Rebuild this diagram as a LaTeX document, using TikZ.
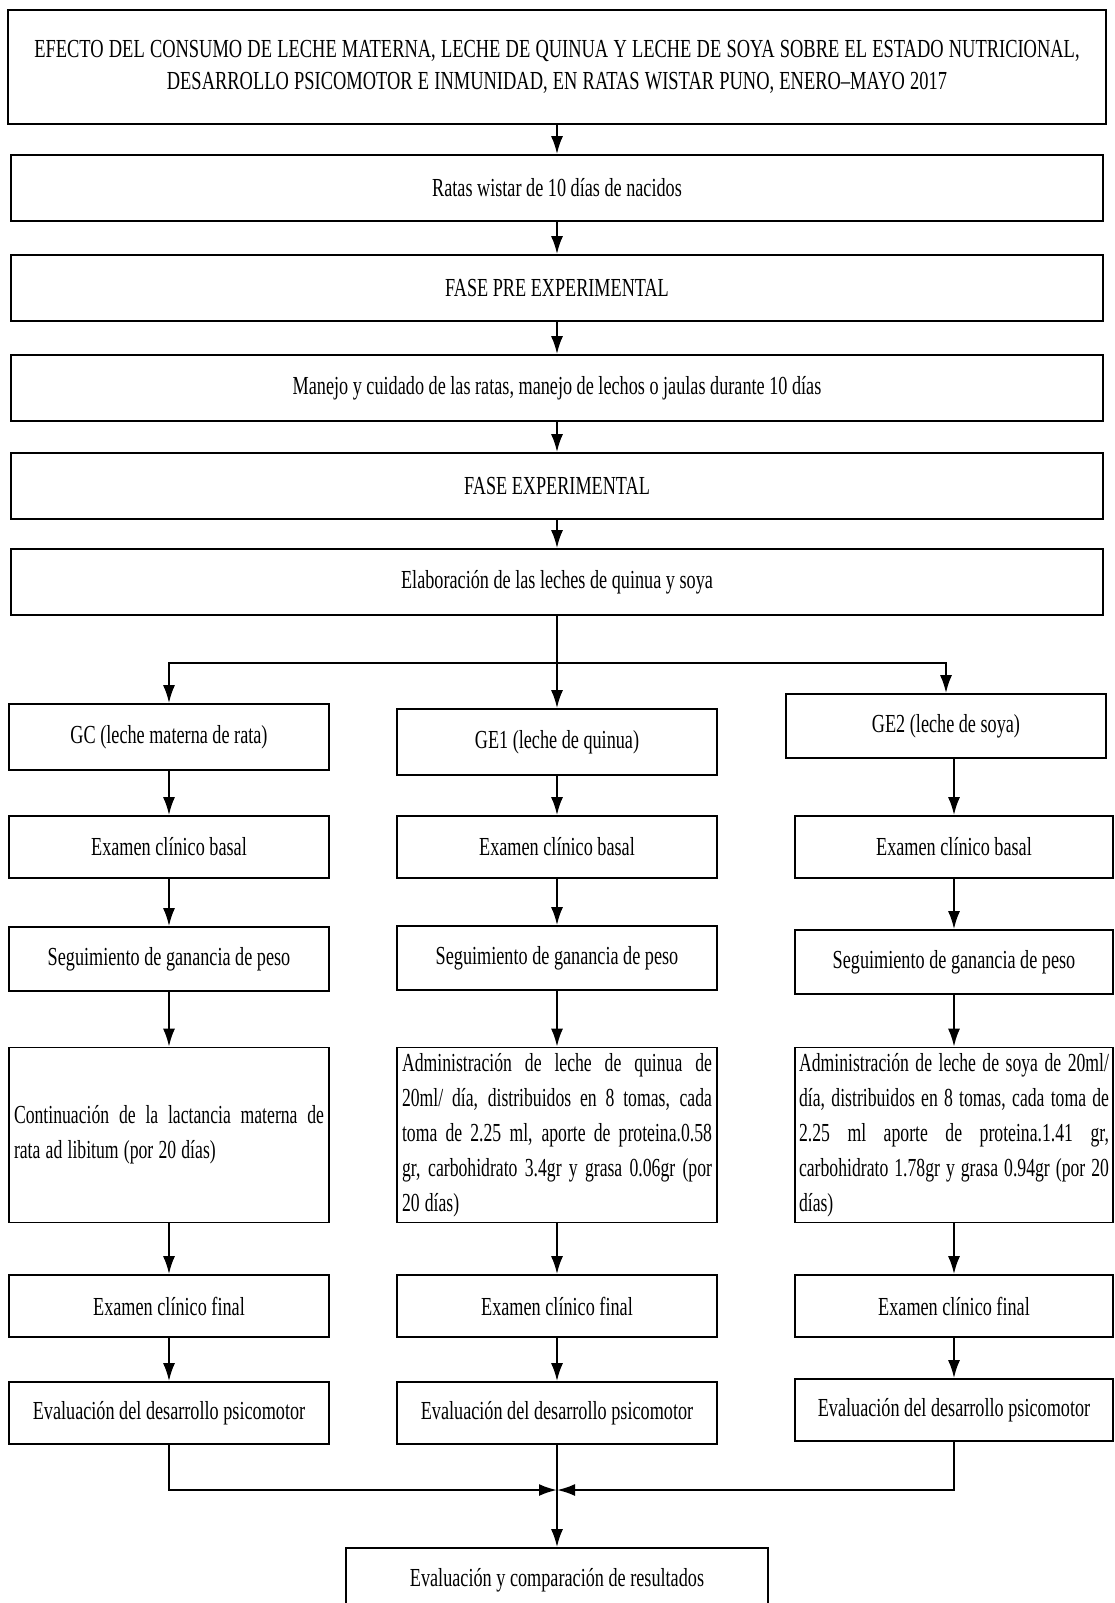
\documentclass[tikz,border=0pt]{standalone}
\usepackage{fontspec}
\setmainfont{Liberation Serif}[FakeStretch=0.7]
\newfontfamily\headfont{Liberation Serif}[FakeStretch=0.71]
\newfontfamily\dosefont{Liberation Serif}[FakeStretch=0.68]
\usetikzlibrary{arrows.meta,positioning}

\newcommand{\tightspaces}{\spaceskip=2.6pt plus 4pt minus 0.8pt\relax}
\newcommand{\titlespaces}{\spaceskip=2.6pt\relax}
\newcommand{\spreadline}[1]{\makebox[155pt][s]{#1}}

\tikzstyle{flow} = [line width=1.1pt,-{Latex[length=9pt,width=6pt]}]
\tikzstyle{wide} = [
        rectangle,
        minimum width=546pt,
        minimum height=33pt,
        text centered,
        draw=black,
        line width=0.8pt,
        fill=white
    ]
\tikzstyle{stage} = [
        rectangle,
        minimum width=160pt,
        minimum height=31pt,
        text centered,
        draw=black,
        line width=0.8pt,
        fill=white
    ]
\tikzstyle{detail} = [
        rectangle,
        text width=155pt,
        inner sep=1.5pt,
        minimum height=87.5pt,
        font=\dosefont\fontsize{13}{17.5}\selectfont,
        draw=black,
        line width=0.8pt,
        fill=white
    ]

\begin{document}
\fontsize{13}{16}\selectfont
\begin{tikzpicture}[x=0.5pt, y=-0.5pt, node distance=48pt]

        \useasboundingbox (0,0) rectangle (1115,1603);
        \clip (0,0) rectangle (1115,1603);

        \node [wide, minimum width=549pt, minimum height=57pt, text width=546pt, inner sep=1pt, font=\headfont] (title) at (557,67) {\titlespaces EFECTO DEL CONSUMO DE LECHE MATERNA, LECHE DE QUINUA Y LECHE DE SOYA SOBRE EL ESTADO NUTRICIONAL,\\DESARROLLO PSICOMOTOR E INMUNIDAD, EN RATAS WISTAR PUNO, ENERO–MAYO 2017};
        \node [wide, below of=title, yshift=-12.5pt] (rats) {Ratas wistar de 10 días de nacidos};
        \node [wide, below of=rats, yshift=-2pt] (prephase) {FASE PRE EXPERIMENTAL};
        \node [wide, below of=prephase, yshift=-2pt] (care) {Manejo y cuidado de las ratas, manejo de lechos o jaulas durante 10 días};
        \node [wide, below of=care, yshift=-1pt] (phase) {FASE EXPERIMENTAL};
        \node [wide, below of=phase] (prep) {Elaboración de las leches de quinua y soya};

        \coordinate (split) at (557,663);

        \node [stage, minimum height=33pt] (gc) at (169,737) {GC (leche materna de rata)};
        \node [stage, minimum height=33pt] (ge1) at (557,742) {GE1 (leche de quinua)};
        \node [stage, minimum height=32pt] (ge2) at (946,726) {GE2 (leche de soya)};

        \node [stage, below of=gc, yshift=-7pt] (gcBasal) {Examen clínico basal};
        \node [stage, minimum height=32pt, below of=gcBasal, yshift=-8pt] (gcWeight) {Seguimiento de ganancia de peso};
        \node [detail, minimum width=160pt, below of=gcWeight, yshift=-40pt] (gcDose) {\tightspaces\spreadline{Continuación de la lactancia materna de}\\rata ad libitum (por 20 días)};
        \node [stage, below of=gcDose, yshift=-37.5pt] (gcFinal) {Examen clínico final};
        \node [stage, below of=gcFinal, yshift=-5.5pt] (gcEval) {Evaluación del desarrollo psicomotor};

        \node [stage, below of=ge1, yshift=-4.5pt] (ge1Basal) {Examen clínico basal};
        \node [stage, minimum height=32pt, below of=ge1Basal, yshift=-7.5pt] (ge1Weight) {Seguimiento de ganancia de peso};
        \node [detail, minimum width=160pt, below of=ge1Weight, yshift=-40.5pt] (ge1Dose) {\tightspaces\spreadline{Administración de leche de quinua de}\\\spreadline{20ml/ día, distribuidos en 8 tomas, cada}\\\spreadline{toma de 2.25 ml, aporte de proteina.0.58}\\\spreadline{gr, carbohidrato 3.4gr y grasa 0.06gr (por}\\20 días)};
        \node [stage, below of=ge1Dose, yshift=-37.5pt] (ge1Final) {Examen clínico final};
        \node [stage, below of=ge1Final, yshift=-5.5pt] (ge1Eval) {Evaluación del desarrollo psicomotor};

        \node [stage, minimum width=159pt, below of=ge2, yshift=-12.5pt, xshift=4pt] (ge2Basal) {Examen clínico basal};
        \node [stage, minimum width=159pt, minimum height=32pt, below of=ge2Basal, yshift=-9.5pt] (ge2Weight) {Seguimiento de ganancia de peso};
        \node [detail, minimum width=159pt, below of=ge2Weight, yshift=-38.5pt] (ge2Dose) {\tightspaces\spreadline{Administración de leche de soya de 20ml/}\\\spreadline{día, distribuidos en 8 tomas, cada toma de}\\\spreadline{2.25 ml aporte de proteina.1.41 gr,}\\\spreadline{carbohidrato 1.78gr y grasa 0.94gr (por 20}\\días)};
        \node [stage, minimum width=159pt, below of=ge2Dose, yshift=-37.5pt] (ge2Final) {Examen clínico final};
        \node [stage, minimum width=159pt, below of=ge2Final, yshift=-4pt] (ge2Eval) {Evaluación del desarrollo psicomotor};

        \coordinate (merge) at (557,1490);
        \node [stage, minimum width=211pt, minimum height=32pt] (result) at (557,1580) {Evaluación y comparación de resultados};

        \draw [flow] (title) -- (rats);
        \draw [flow] (rats) -- (prephase);
        \draw [flow] (prephase) -- (care);
        \draw [flow] (care) -- (phase);
        \draw [flow] (phase) -- (prep);
        \draw [line width=1.1pt] (prep) -- (split);
        \draw [flow] (split) -| (gc);
        \draw [flow] (split) -- (ge1);
        \draw [flow] (split) -| (ge2);

        \draw [flow] (gc) -- (gcBasal);
        \draw [flow] (gcBasal) -- (gcWeight);
        \draw [flow] (gcWeight) -- (gcDose);
        \draw [flow] (gcDose) -- (gcFinal);
        \draw [flow] (gcFinal) -- (gcEval);

        \draw [flow] (ge1) -- (ge1Basal);
        \draw [flow] (ge1Basal) -- (ge1Weight);
        \draw [flow] (ge1Weight) -- (ge1Dose);
        \draw [flow] (ge1Dose) -- (ge1Final);
        \draw [flow] (ge1Final) -- (ge1Eval);

        \draw [flow] (ge2Basal.north |- ge2.south) -- (ge2Basal);
        \draw [flow] (ge2Basal) -- (ge2Weight);
        \draw [flow] (ge2Weight) -- (ge2Dose);
        \draw [flow] (ge2Dose) -- (ge2Final);
        \draw [flow] (ge2Final) -- (ge2Eval);

        \draw [flow] (gcEval) |- (merge);
        \draw [flow] (ge2Eval) |- (merge);
        \draw [flow] (ge1Eval) -- (result);

    \end{tikzpicture}
\end{document}
